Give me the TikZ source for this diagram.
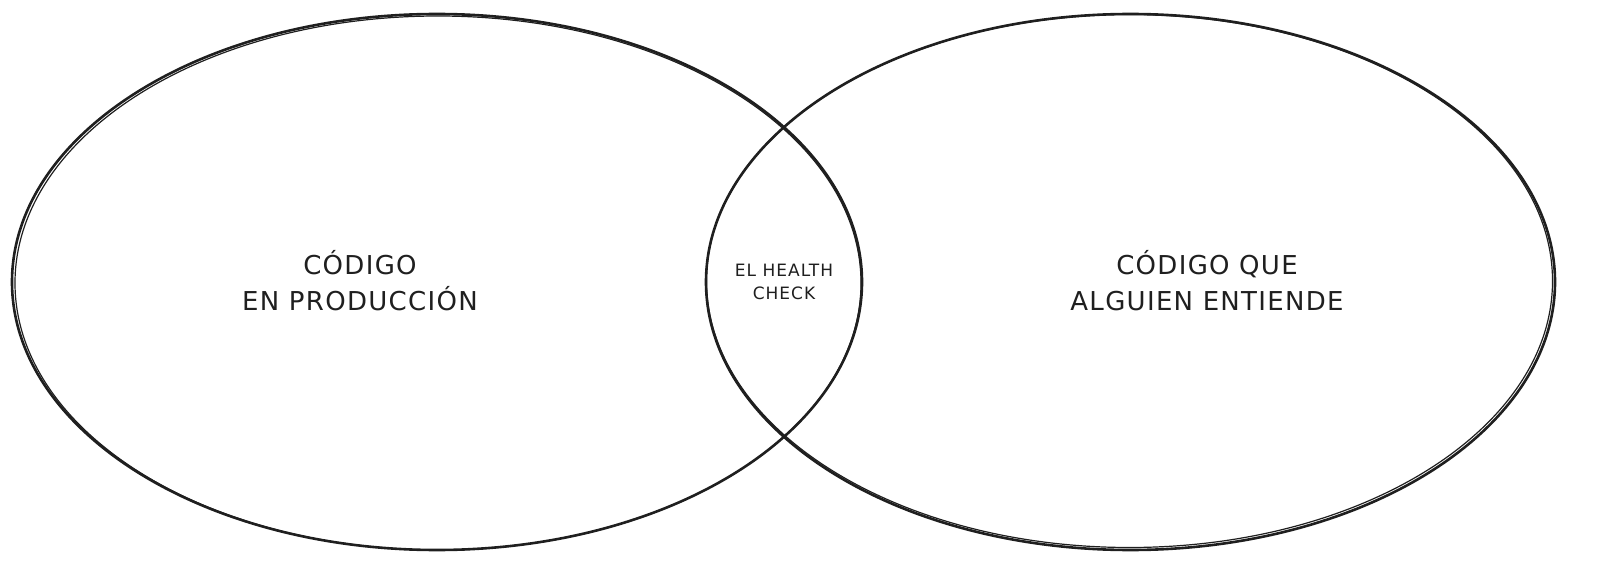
\documentclass[tikz,border=0pt]{standalone}
\usepackage{fontspec}
\setmainfont{DejaVu Sans}
\newfontfamily\sketchfont[LetterSpace=5]{DejaVu Sans}
\newfontfamily\sketchsmall[LetterSpace=6]{DejaVu Sans}
\tikzset{
  venn/.style={draw=black!88, line width=1.3pt},
  venn2/.style={draw=black!88, line width=0.6pt},
  biglabel/.style={align=center, font=\sketchfont\fontsize{13}{18}\selectfont, text=black!88},
  smalllabel/.style={align=center, font=\sketchsmall\fontsize{8.5}{11.5}\selectfont, text=black!88}
}
\begin{document}
\begin{tikzpicture}[x=0.5pt,y=-0.5pt]
\useasboundingbox (0,0) rectangle (1600,577);
\coordinate (lc) at (437,282);
\coordinate (rc) at (1130.5,282);
\draw[venn] (lc) ellipse [x radius=425, y radius=268];
\draw[venn2] (438,283) ellipse [x radius=423, y radius=267];
\draw[venn] (rc) ellipse [x radius=424.5, y radius=268];
\draw[venn2] (1129.5,281) ellipse [x radius=423, y radius=266.5];
\node[biglabel] (left) at (360,281) {CÓDIGO\\EN PRODUCCIÓN};
\node[biglabel] (right) at (1207,281) {CÓDIGO QUE\\ALGUIEN ENTIENDE};
\node[smalllabel] (mid) at (784,282) {EL HEALTH\\CHECK};
\end{tikzpicture}
\end{document}
